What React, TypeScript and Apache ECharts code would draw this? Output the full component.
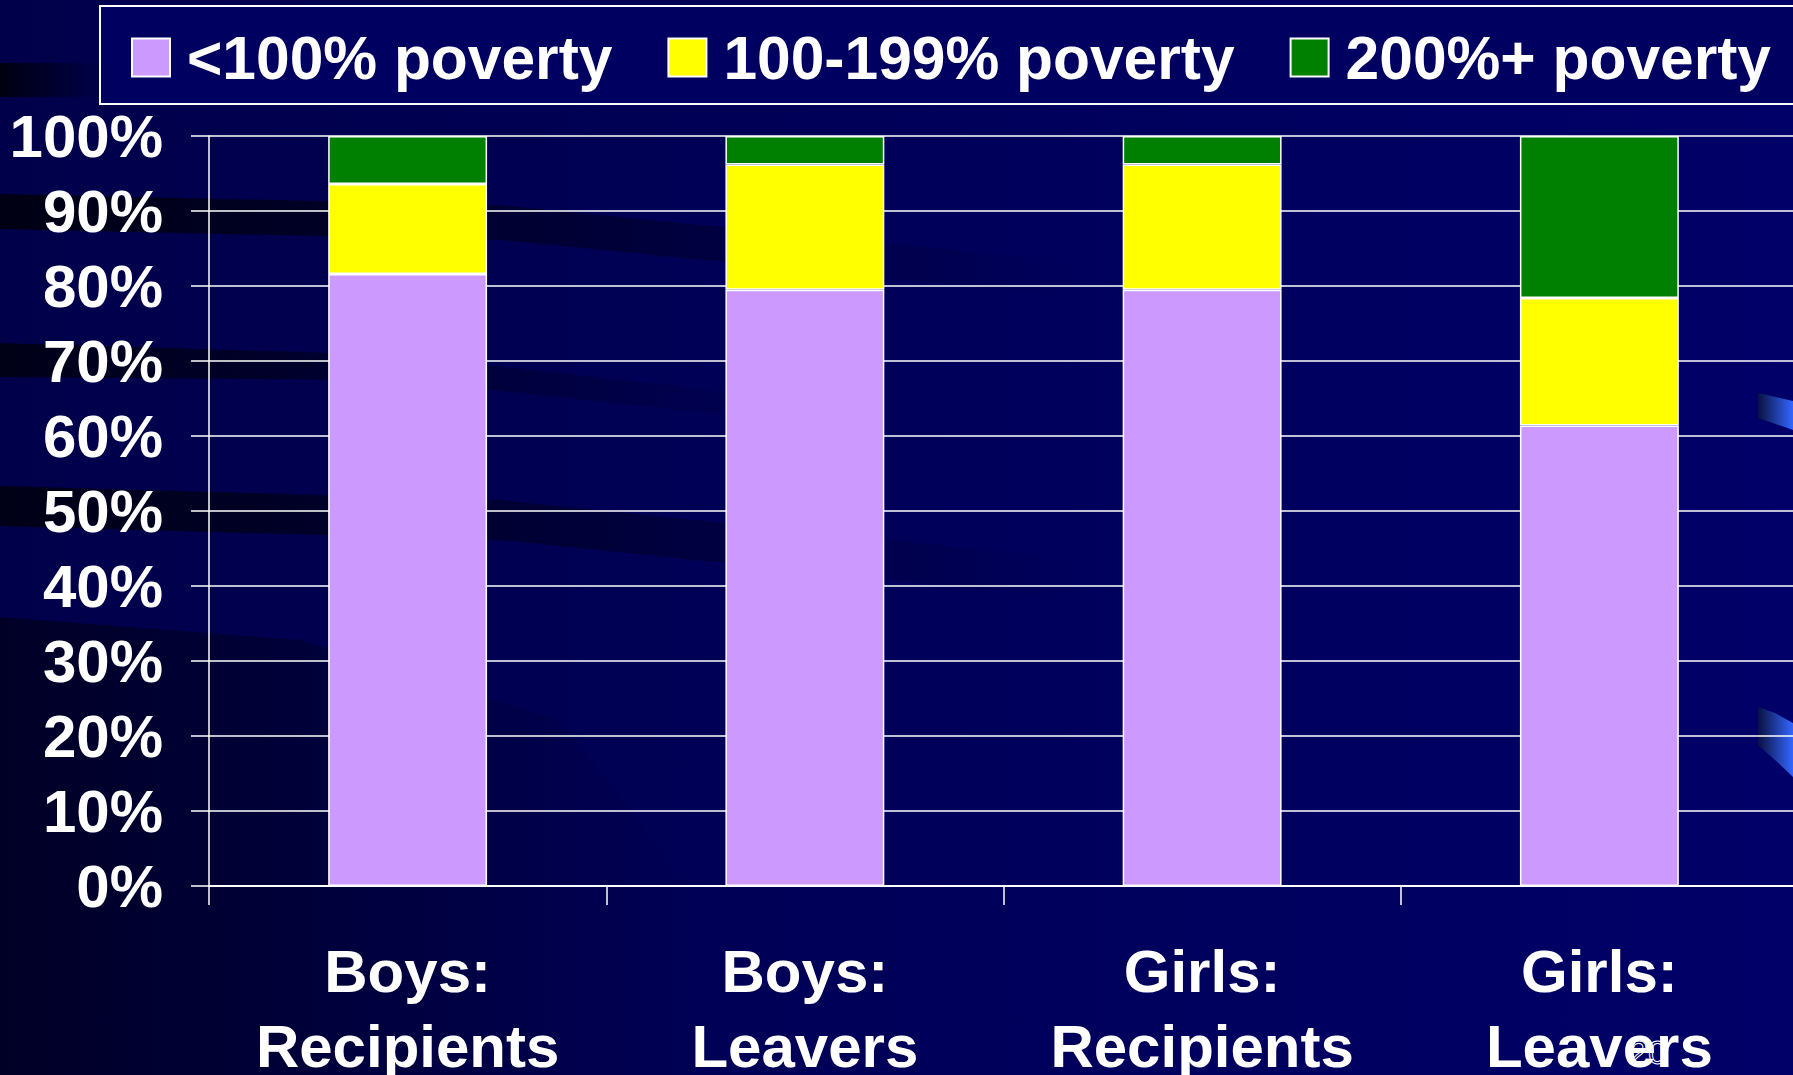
import React, { useEffect, useRef } from "react";
import * as echarts from "echarts";

const categories = ["Boys:\nRecipients", "Boys:\nLeavers", "Girls:\nRecipients", "Girls:\nLeavers"];
const seriesNames = ["<100% poverty", "100-199% poverty", "200%+ poverty"];
const below100 = [81.6, 79.5, 79.5, 61.4];
const pov100to199 = [12.0, 16.7, 16.7, 17.0];
const pov200plus = [6.4, 3.8, 3.8, 21.6];
const seriesColors = ["#cc99ff", "#ffff00", "#008000"];
const slideNumber = "20";

const FONT = "'Liberation Sans', Arial, Helvetica, sans-serif";

export default function App() {
  const ref = useRef<HTMLDivElement>(null);
  useEffect(() => {
    if (!ref.current) return;
    const chart = echarts.init(ref.current, undefined, { renderer: "svg" });
    const data = [below100, pov100to199, pov200plus];
    const band = (pts: number[][], alpha: number) => ({
      type: "polygon",
      z: -10,
      silent: true,
      shape: { points: pts },
      style: {
        fill: {
          type: "linear", x: 0, y: 0, x2: 1, y2: 0,
          colorStops: [
            { offset: 0, color: `rgba(0,0,10,${alpha})` },
            { offset: 1, color: "rgba(0,0,10,0)" },
          ],
        },
      },
    });
    const swoosh = (pts: number[][]) => ({
      type: "polygon",
      z: -5,
      silent: true,
      shape: { points: pts },
      style: {
        fill: {
          type: "linear", x: 0, y: 0, x2: 1, y2: 0,
          colorStops: [
            { offset: 0, color: "#0a1040" },
            { offset: 1, color: "#3366ff" },
          ],
        },
      },
    });
    chart.setOption({
      animation: false,
      backgroundColor: {
        type: "linear", x: 0, y: 0, x2: 1, y2: 0,
        colorStops: [
          { offset: 0, color: "#00004a" },
          { offset: 1, color: "#000068" },
        ],
      },
      graphic: [
        band([[0, 617], [300, 640], [560, 720], [700, 900], [700, 1075], [0, 1075]], 0.55),
        band([[0, 194], [500, 205], [1086, 263], [1086, 297], [500, 240], [0, 229]], 0.85),
        band([[0, 343], [400, 355], [800, 400], [800, 423], [400, 380], [0, 377]], 0.8),
        band([[0, 486], [500, 500], [1086, 560], [1086, 600], [500, 540], [0, 526]], 0.8),
        band([[0, 63], [103, 63], [103, 97], [0, 97]], 0.9),
        swoosh([[1770, 58], [1793, 57], [1793, 86], [1770, 88]]),
        swoosh([[1758, 393], [1793, 401], [1793, 430], [1758, 418]]),
        swoosh([[1758, 707], [1775, 713], [1793, 723], [1793, 777], [1775, 760], [1758, 745]]),
        {
          type: "rect",
          z: -1,
          silent: true,
          shape: { x: 100, y: 6, width: 1800, height: 98 },
          style: { fill: "#000060", stroke: "#ffffff", lineWidth: 2 },
        },
        {
          type: "text",
          z: 10,
          silent: true,
          x: 1648,
          y: 1052,
          style: {
            text: slideNumber,
            font: `34px ${FONT}`,
            fill: "rgba(0,0,0,0)",
            stroke: "#ffffff",
            lineWidth: 1,
            align: "center",
            verticalAlign: "middle",
          },
        },
      ],
      legend: {
        left: 131,
        top: 27,
        padding: 0,
        itemWidth: 38,
        itemHeight: 38,
        itemGap: 55,
        icon: "rect",
        data: seriesNames,
        textStyle: {
          color: "#ffffff",
          fontSize: 60.5,
          fontWeight: "bold",
          fontFamily: FONT,
          lineHeight: 60,
          padding: [0, 0, 0, 12],
        },
      },
      grid: {
        left: 209,
        top: 136,
        width: 1589,
        height: 750,
        containLabel: false,
        outerBoundsMode: "none",
      },
      xAxis: {
        type: "category",
        data: categories,
        boundaryGap: true,
        axisLine: { show: true, lineStyle: { color: "#ffffff", width: 2 } },
        axisTick: { show: true, length: 19, alignWithLabel: false, lineStyle: { color: "#ffffff", width: 1.5 } },
        axisLabel: {
          color: "#ffffff",
          fontSize: 60,
          fontWeight: "bold",
          fontFamily: FONT,
          lineHeight: 75,
          margin: 48,
          interval: 0,
        },
        splitLine: { show: false },
      },
      yAxis: {
        type: "value",
        min: 0,
        max: 100,
        interval: 10,
        axisLine: { show: true, lineStyle: { color: "#ffffff", width: 1.5 } },
        axisTick: { show: true, length: 18, inside: false, lineStyle: { color: "#ffffff", width: 1.5 } },
        axisLabel: {
          color: "#ffffff",
          fontSize: 60,
          fontWeight: "bold",
          fontFamily: FONT,
          margin: 46,
          formatter: "{value}%",
        },
        splitLine: { show: true, lineStyle: { color: "#ffffff", width: 1.5 } },
      },
      series: seriesNames.map((name, i) => ({
        name,
        type: "bar",
        stack: "total",
        barWidth: "40%",
        data: data[i],
        itemStyle: { color: seriesColors[i], borderColor: "#ffffff", borderWidth: 1.5 },
      })),
    });
    return () => chart.dispose();
  }, []);
  return (
    <div
      ref={ref}
      style={{ position: "absolute", left: 0, top: 0, width: 1793, height: 1075 }}
    />
  );
}
